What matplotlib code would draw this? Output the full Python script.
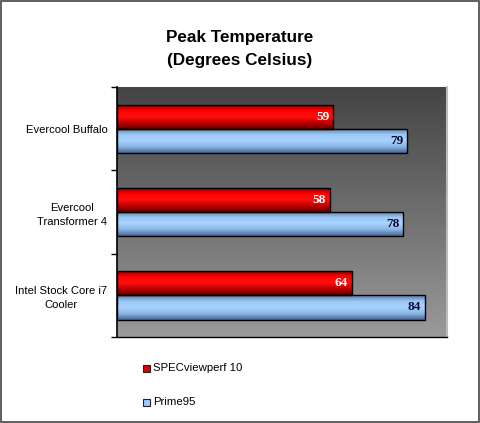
import numpy as np
import matplotlib.pyplot as plt
from matplotlib.colors import LinearSegmentedColormap
from matplotlib.patches import Rectangle

# data
coolers = ['Evercool Buffalo', 'Evercool\nTransformer 4', 'Intel Stock Core i7\nCooler']
specviewperf = [59, 58, 64]
prime95 = [79, 78, 84]
series_names = ['SPECviewperf 10', 'Prime95']

plt.rcParams['font.family'] = ['Liberation Sans', 'DejaVu Sans']

fig = plt.figure(figsize=(4.8, 4.23), dpi=100)
fig.patches.append(Rectangle((0.002, 0.002), 0.996, 0.996, transform=fig.transFigure,
                             fill=False, edgecolor='#444444', linewidth=1.2))

ax = fig.add_axes([0.2438, 0.2033, 0.6875, 0.591])
ax.set_xlim(0, 90)
ax.set_ylim(len(coolers), 0)

# gray gradient background
bg = LinearSegmentedColormap.from_list('bg', ['#444444', '#9a9a9a'])
ax.imshow(np.linspace(0, 1, 256).reshape(-1, 1), cmap=bg, aspect='auto',
          extent=[0, 90, len(coolers), 0], zorder=0)

red_cm = LinearSegmentedColormap.from_list('r', ['#7a0000', '#ff0000', '#ff1010', '#c00000', '#600000'])
blue_cm = LinearSegmentedColormap.from_list('b', ['#5a78a8', '#9cc8f4', '#a8d2ff', '#88b4e4', '#4a6490'])

h = 0.29
y = np.arange(len(coolers)) + 0.5
grad = np.linspace(0, 1, 64).reshape(-1, 1)


def gradient_bars(ypos, vals, cmap, txtcolor):
    bars = ax.barh(ypos, vals, height=h, color='none', edgecolor='black', linewidth=1.0, zorder=3)
    for b, v in zip(bars, vals):
        x0, y0 = b.get_x(), b.get_y()
        im = ax.imshow(grad, cmap=cmap, aspect='auto',
                       extent=[x0, x0 + b.get_width(), y0 + b.get_height(), y0], zorder=2)
        im.set_clip_path(b)
        ax.text(v - 1.0, y0 + b.get_height() / 2, str(v), ha='right', va='center',
                color=txtcolor, fontsize=9.5, fontweight='bold', family='Liberation Serif', zorder=4)
    return bars


gradient_bars(y - h / 2, specviewperf, red_cm, 'white')
gradient_bars(y + h / 2, prime95, blue_cm, '#0a0a30')

ax.set_xlim(0, 90)
ax.set_ylim(len(coolers), 0)
ax.set_xticks([])
ax.set_yticks(np.arange(len(coolers) + 1), minor=False)
ax.set_yticklabels([])
ax.set_yticks(y, minor=True)
ax.set_yticklabels(coolers, minor=True, fontsize=8.1, multialignment='center', linespacing=1.5)
ax.tick_params(axis='y', which='minor', length=0, pad=7)
ax.tick_params(axis='y', which='major', length=4, width=1, direction='out')
ax.spines['top'].set_visible(False)
ax.spines['right'].set_color('#bbbbbb')
ax.spines['right'].set_linewidth(1.5)
ax.spines['left'].set_color('black')
ax.spines['left'].set_linewidth(1.2)
ax.spines['bottom'].set_color('black')
ax.spines['bottom'].set_linewidth(1.0)

fig.text(0.5, 0.911, 'Peak Temperature', ha='center', va='center', fontsize=12.3, fontweight='bold')
fig.text(0.5, 0.857, '(Degrees Celsius)', ha='center', va='center', fontsize=12.3, fontweight='bold')

# legend
leg_colors = ['#dd0000', '#99ccff']
for i, (name, c) in enumerate(zip(series_names, leg_colors)):
    yy = 1 - (368 + i * 34) / 423
    fig.patches.append(Rectangle((143 / 480, yy - 3.5 / 423), 7 / 480, 7 / 423,
                                 transform=fig.transFigure, facecolor=c, edgecolor='#222222', linewidth=0.8))
    fig.text(153 / 480, yy, name, ha='left', va='center', fontsize=8.2)

fig.savefig('out.png', dpi=100)
